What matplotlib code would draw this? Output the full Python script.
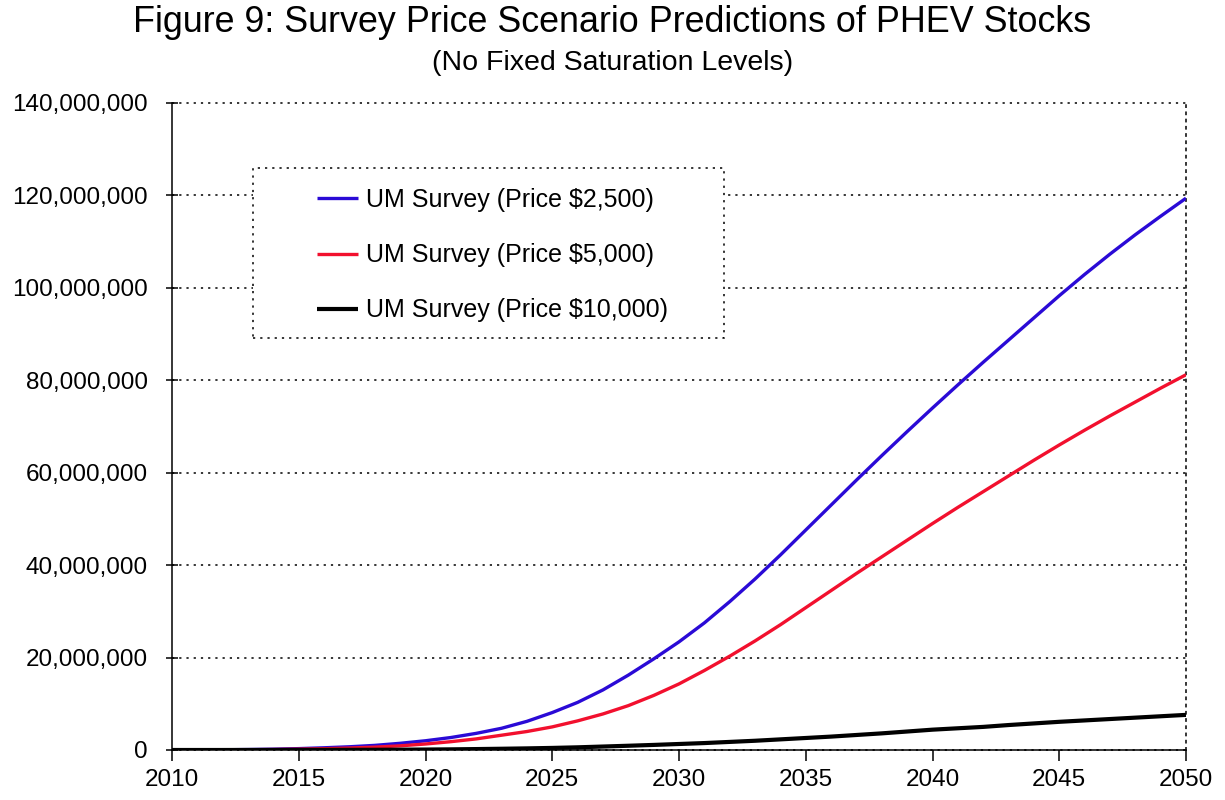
import matplotlib
matplotlib.use("Agg")
import matplotlib.pyplot as plt
from matplotlib.patches import Rectangle
from matplotlib.ticker import FuncFormatter

plt.rcParams['font.family'] = ['Liberation Sans', 'DejaVu Sans']
plt.rcParams['lines.scale_dashes'] = False

years = list(range(2010, 2051))

price_2500 = [0.0, 0.02, 0.05, 0.1, 0.18, 0.3, 0.48, 0.7, 1.0, 1.45, 2.0,
              2.7, 3.6, 4.7, 6.2, 8.1, 10.3, 13.0, 16.2, 19.7, 23.4,
              27.5, 32.1, 37.0, 42.2, 47.6, 53.0, 58.4, 63.7, 68.9, 74.0,
              79.0, 83.9, 88.7, 93.5, 98.3, 102.9, 107.3, 111.5, 115.5, 119.4]

price_5000 = [0.0, 0.01, 0.03, 0.06, 0.1, 0.18, 0.28, 0.42, 0.62, 0.9, 1.3,
              1.8, 2.4, 3.2, 4.0, 5.0, 6.3, 7.8, 9.6, 11.8, 14.3,
              17.2, 20.3, 23.6, 27.1, 30.8, 34.5, 38.2, 41.8, 45.4, 49.0,
              52.5, 55.9, 59.3, 62.7, 66.0, 69.2, 72.3, 75.3, 78.3, 81.2]

price_10000 = [0.0, 0.0, 0.0, 0.01, 0.01, 0.02, 0.03, 0.04, 0.05, 0.07, 0.1,
               0.14, 0.2, 0.27, 0.35, 0.45, 0.58, 0.75, 0.92, 1.1, 1.3,
               1.5, 1.75, 2.0, 2.3, 2.6, 2.9, 3.25, 3.6, 4.0, 4.4,
               4.7, 5.0, 5.4, 5.75, 6.1, 6.4, 6.7, 7.0, 7.3, 7.6]

labels = ["UM Survey (Price $2,500)", "UM Survey (Price $5,000)", "UM Survey (Price $10,000)"]
colors = ["#2A0AD6", "#F2102E", "#000000"]

x_ticks = list(range(2010, 2051, 5))
y_ticks = list(range(0, 140000001, 20000000))

fig = plt.figure(figsize=(12.25, 8), dpi=100)
ax = fig.add_axes([172/1225, 1-750/800, (1186-172)/1225, (750-103)/800])

series = [price_2500, price_5000, price_10000]
widths = [2.4, 2.4, 3.0]
for vals, lab, col, lw in zip(series, labels, colors, widths):
    ax.plot(years, [v * 1e6 for v in vals], color=col, lw=lw, label=lab,
            solid_capstyle='butt', solid_joinstyle='round', zorder=3)

ax.set_xlim(2010, 2050)
ax.set_ylim(0, 140000000)
ax.set_xticks(x_ticks)
ax.set_yticks(y_ticks)
ax.yaxis.set_major_formatter(FuncFormatter(lambda v, p: f"{int(v):,}"))

ax.grid(axis='y', color='black', linestyle=(0, (1.6, 3.6)), linewidth=1.1)
for gl in ax.get_ygridlines():
    gl.set_clip_on(False)

ax.spines['top'].set_visible(False)
ax.spines['right'].set_linestyle((0, (1.6, 3.6)))
ax.spines['right'].set_linewidth(1.1)
for s in ['left', 'bottom']:
    ax.spines[s].set_linewidth(1.1)

ax.tick_params(axis='y', direction='inout', length=9, width=1.1, labelsize=17.5, pad=13)
ax.tick_params(axis='x', direction='out', length=8, width=1.1, labelsize=17.5, pad=6)

fig.text(0.5, 1-22/800, "Figure 9: Survey Price Scenario Predictions of PHEV Stocks",
         ha='center', va='center', fontsize=25.8)
fig.text(0.5, 1-63/800, "(No Fixed Saturation Levels)",
         ha='center', va='center', fontsize=20.5)

# legend frame (dotted)
frame = Rectangle((253/1225, 1-338/800), (724-253)/1225, (338-168)/800,
                  transform=fig.transFigure, fill=True, facecolor='white',
                  edgecolor='black', linestyle=(0, (1.6, 3.6)), linewidth=1.1,
                  zorder=4, clip_on=False)
ax.add_patch(frame)

leg = ax.legend(loc='upper left', bbox_to_anchor=(317/1225, 1-188/800),
                bbox_transform=fig.transFigure, frameon=False, fontsize=18,
                borderpad=0, borderaxespad=0, handlelength=1.65, handletextpad=0.33,
                labelspacing=1.25)
leg.set_zorder(5)

fig.savefig("out.png", dpi=100)
